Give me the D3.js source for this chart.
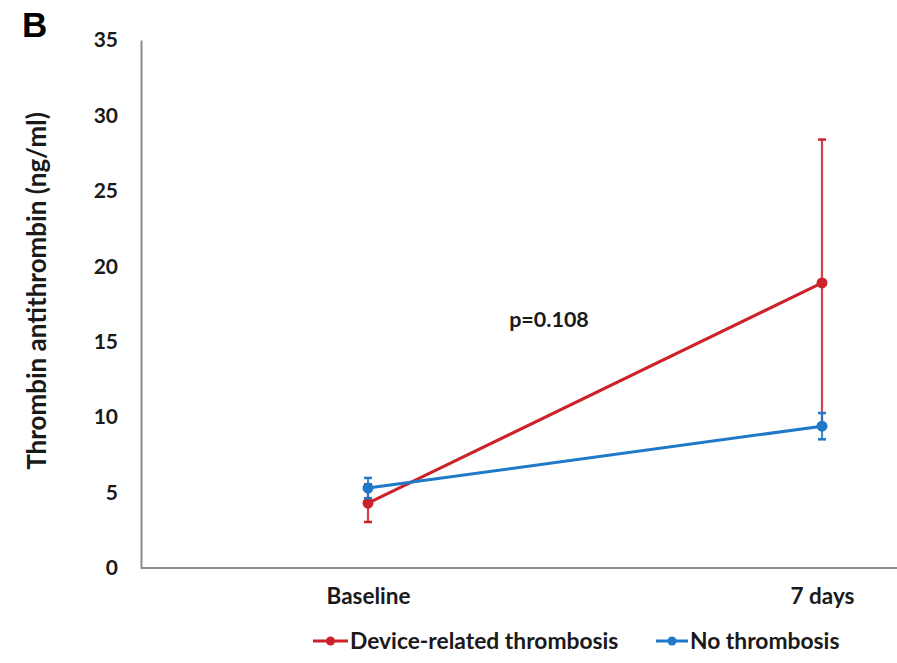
<!DOCTYPE html>
<html>
<head>
<meta charset="utf-8">
<script src="https://cdn.jsdelivr.net/npm/d3@7"></script>
<style>
body { margin: 0; background: #fff; }
text { font-family: Lato, "Open Sans", sans-serif; font-weight: bold; fill: #1a1a1a; }
</style>
</head>
<body>
<div id="chart"></div>
<script>
var svgWidth = 897;
var svgHeight = 663;

// data
var timepoints = ["Baseline", "7 days"];
var seriesNames = ["Device-related thrombosis", "No thrombosis"];
var deviceMeans = [4.3, 18.9];
var deviceErrors = [1.25, 9.5];
var noneMeans = [5.3, 9.4];
var noneErrors = [0.67, 0.87];
var yTicks = [0, 5, 10, 15, 20, 25, 30, 35];

var colors = ["#cc2229", "#1f78c8"];

var plotLeft = 141, plotRight = 897, plotTop = 40, plotBottom = 568;

var svg = d3.select("#chart")
  .append("svg")
  .attr("width", svgWidth)
  .attr("height", svgHeight);

var xScale = d3.scalePoint()
  .domain(timepoints)
  .range([368, 822]);

var yScale = d3.scaleLinear()
  .domain([0, 35])
  .range([plotBottom, plotTop]);

// panel letter
svg.append("text")
  .attr("x", 22)
  .attr("y", 37)
  .style("font-family", "'Liberation Sans', Arial, sans-serif")
  .style("font-size", "35px")
  .style("fill", "#000")
  .text("B");

// axes
var yAxis = d3.axisLeft(yScale).tickValues(yTicks).tickSize(0).tickPadding(23);
var gy = svg.append("g")
  .attr("transform", "translate(" + plotLeft + ",0)")
  .call(yAxis);
gy.select(".domain").attr("stroke", "#8a8a8a").attr("stroke-width", 2);
gy.selectAll("text").style("font-size", "21px");

var xAxis = d3.axisBottom(xScale).tickSize(0).tickPadding(20);
var gx = svg.append("g")
  .attr("transform", "translate(0," + plotBottom + ")")
  .call(xAxis);
gx.select(".domain").attr("d", "M" + plotLeft + ",0H" + plotRight)
  .attr("stroke", "#8a8a8a").attr("stroke-width", 2);
gx.selectAll("text").style("font-size", "22.5px");

// y label
svg.append("text")
  .attr("transform", "translate(46," + 291 + ")rotate(-90)")
  .attr("text-anchor", "middle")
  .style("font-size", "26px")
  .text("Thrombin antithrombin (ng/ml)");

// p value
svg.append("text")
  .attr("x", 549)
  .attr("y", 327)
  .attr("text-anchor", "middle")
  .style("font-size", "21.5px")
  .text("p=0.108");

var series = [
  { name: seriesNames[0], means: deviceMeans, errs: deviceErrors, color: colors[0] },
  { name: seriesNames[1], means: noneMeans, errs: noneErrors, color: colors[1] }
];

var line = d3.line()
  .x(function(d, i) { return xScale(timepoints[i]); })
  .y(function(d) { return yScale(d); });

series.forEach(function(s) {
  var g = svg.append("g");
  s.means.forEach(function(m, i) {
    var x = xScale(timepoints[i]);
    var lo = yScale(m - s.errs[i]), hi = yScale(m + s.errs[i]);
    g.append("line").attr("x1", x).attr("x2", x).attr("y1", lo).attr("y2", hi)
      .attr("stroke", s.color).attr("stroke-width", 2.2).attr("opacity", 0.85);
    [lo, hi].forEach(function(yy) {
      g.append("line").attr("x1", x - 4).attr("x2", x + 4).attr("y1", yy).attr("y2", yy)
        .attr("stroke", s.color).attr("stroke-width", 2.5);
    });
  });
  g.append("path")
    .datum(s.means)
    .attr("d", line)
    .attr("fill", "none")
    .attr("stroke", s.color)
    .attr("stroke-width", 3);
  g.selectAll("circle")
    .data(s.means)
    .enter()
    .append("circle")
    .attr("cx", function(d, i) { return xScale(timepoints[i]); })
    .attr("cy", function(d) { return yScale(d); })
    .attr("r", 5.5)
    .attr("fill", s.color);
});

// legend
var legendX = [313, 656];
var legendLen = [35, 32];
var legendY = 641;
series.forEach(function(s, i) {
  var g = svg.append("g").attr("transform", "translate(" + legendX[i] + "," + legendY + ")");
  g.append("line").attr("x1", 0).attr("x2", legendLen[i]).attr("y1", 0).attr("y2", 0)
    .attr("stroke", s.color).attr("stroke-width", 3);
  g.append("circle").attr("cx", legendLen[i] / 2).attr("cy", 0).attr("r", 4.5).attr("fill", s.color);
  g.append("text").attr("x", legendLen[i] + 2).attr("y", 0).attr("dy", "0.35em")
    .style("font-size", "22.8px")
    .text(s.name);
});
</script>
</body>
</html>
